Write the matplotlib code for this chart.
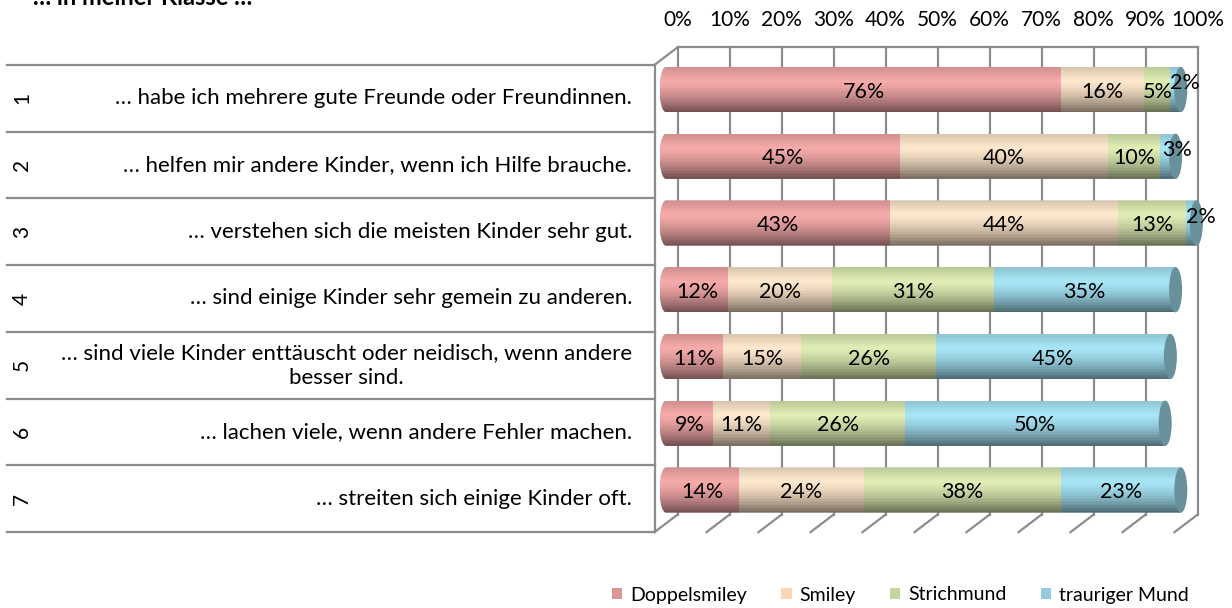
import numpy as np
import matplotlib.pyplot as plt
from matplotlib.patches import Ellipse, PathPatch, Patch
from matplotlib.path import Path
from matplotlib.colors import to_rgb

plt.rcParams['font.family'] = ['Lato', 'DejaVu Sans']

# Data
title = '… in meiner Klasse …'
row_numbers = ['1', '2', '3', '4', '5', '6', '7']
statements = [
    '… habe ich mehrere gute Freunde oder Freundinnen.',
    '… helfen mir andere Kinder, wenn ich Hilfe brauche.',
    '… verstehen sich die meisten Kinder sehr gut.',
    '… sind einige Kinder sehr gemein zu anderen.',
    '… sind viele Kinder enttäuscht oder neidisch, wenn andere\nbesser sind.',
    '… lachen viele, wenn andere Fehler machen.',
    '… streiten sich einige Kinder oft.',
]
series = ['Doppelsmiley', 'Smiley', 'Strichmund', 'trauriger Mund']
doppelsmiley = [76, 45, 43, 12, 11, 9, 14]
smiley = [16, 40, 44, 20, 15, 11, 24]
strichmund = [5, 10, 13, 31, 26, 26, 38]
trauriger_mund = [2, 3, 2, 35, 45, 50, 23]
ticks = [0, 10, 20, 30, 40, 50, 60, 70, 80, 90, 100]

legend_colors = ['#D99694', '#FCD5B5', '#C3D69B', '#93CDDD']
body_colors = ['#F6AAAA', '#FFE8CD', '#DEEEB4', '#A7E6F7']
cap_color = '#69919C'
grid_color = '#8C8C8C'

W, H = 1232, 608
fig = plt.figure(figsize=(W / 100, H / 100), dpi=100)
ax = fig.add_axes([0, 0, 1, 1])
ax.axis('off')

# axis scale: 5.2 px per percent, bars start at x=666px; rows 66.75 px apart
px_per_pct = 5.2
x0_px = 666
y0_px, row_px = 89.5, 66.75
ax.set_xlim(-x0_px / px_per_pct, (W - x0_px) / px_per_pct)
ax.set_ylim((H - y0_px) / row_px, -y0_px / row_px)

hx = 11.5 / px_per_pct   # half depth, x
hy = 8.75 / row_px       # half depth, y
n = len(row_numbers)
top, bottom = -0.5, n - 0.5
lw = 1.6

# back wall
for t in ticks:
    ax.plot([t + hx, t + hx], [top - hy, bottom - hy], color=grid_color, lw=lw, zorder=1)
ax.plot([hx, 100 + hx], [top - hy, top - hy], color=grid_color, lw=lw, zorder=1)
# floor
for t in ticks:
    ax.plot([t - hx, t + hx], [bottom + hy, bottom - hy], color=grid_color, lw=lw, zorder=1)
# left wall
ax.plot([-hx, -hx], [top + hy, bottom + hy], color=grid_color, lw=lw, zorder=1)
ax.plot([-hx, hx], [top + hy, top - hy], color=grid_color, lw=lw, zorder=1)

# table on the left
table_left = (7 - x0_px) / px_per_pct
for k in range(n + 1):
    ax.plot([table_left, -hx], [k - 0.5 + hy] * 2, color=grid_color, lw=lw, zorder=1)
for i in range(n):
    ax.text((22 - x0_px) / px_per_pct, i + hy, row_numbers[i], rotation=90,
            ha='center', va='center', fontsize=15)
    ax.text((632 - x0_px) / px_per_pct, i + hy, statements[i], ha='right', va='center',
            multialignment='center', fontsize=16, linespacing=1.3)

# top tick labels
for t in ticks:
    ax.text(t + hx, -1.04, f'{t}%', ha='center', va='center', fontsize=15)

# cylinder bars
bar_h = 0.68
e = 6.5 / px_per_pct
n_strips = 30
tt = (np.arange(n_strips) + 0.5) / n_strips
shade = np.where(tt < 0.3, 0.84 + 0.16 * tt / 0.3, 1.0 - 0.55 * ((tt - 0.3) / 0.7) ** 1.5)

values = np.array([doppelsmiley, smiley, strichmund, trauriger_mund])
for i in range(n):
    total = values[:, i].sum()
    theta = np.linspace(np.pi / 2, 3 * np.pi / 2, 40)
    verts = [(total, i - bar_h / 2)]
    verts += list(zip(e * np.cos(theta), i - bar_h / 2 * np.sin(theta)))
    verts += [(total, i + bar_h / 2), (total, i - bar_h / 2)]
    clip = PathPatch(Path(verts, closed=True), transform=ax.transData)
    left = 0
    ys = i - bar_h / 2 + tt * bar_h
    for j in range(len(series)):
        v = values[j, i]
        base = np.array(to_rgb(body_colors[j]))
        cols = [tuple(np.clip(base * s, 0, 1)) for s in shade]
        l = left - e if j == 0 else left
        w = v + e if j == 0 else v
        bars = ax.barh(ys, w, left=l, height=bar_h / n_strips * 1.05, color=cols,
                       linewidth=0, zorder=3)
        for p in bars:
            p.set_clip_path(clip)
        lx, ly = left + v / 2, i + 0.03
        if v <= 3:
            lx, ly = lx + 1.8, ly - 0.12
        ax.text(lx, ly, f'{v}%', ha='center', va='center', fontsize=15.5, zorder=6)
        left += v
    ax.add_patch(Ellipse((total, i), 2 * e, bar_h, facecolor=cap_color,
                         edgecolor='none', zorder=4))

# title, cut off at the top edge
fig.text(33 / W, 1 - 5 / H, title, fontsize=17, fontweight='bold', va='baseline')

handles = [Patch(facecolor=c, edgecolor='none') for c in legend_colors]
ax.legend(handles, series, loc='center left', bbox_to_anchor=(602 / W, 1 - 595 / H),
          bbox_transform=fig.transFigure, ncol=4, frameon=False, fontsize=14,
          handlelength=0.55, handleheight=0.55, handletextpad=0.4, columnspacing=1.75,
          borderpad=0)

fig.savefig('out.png', dpi=100)
